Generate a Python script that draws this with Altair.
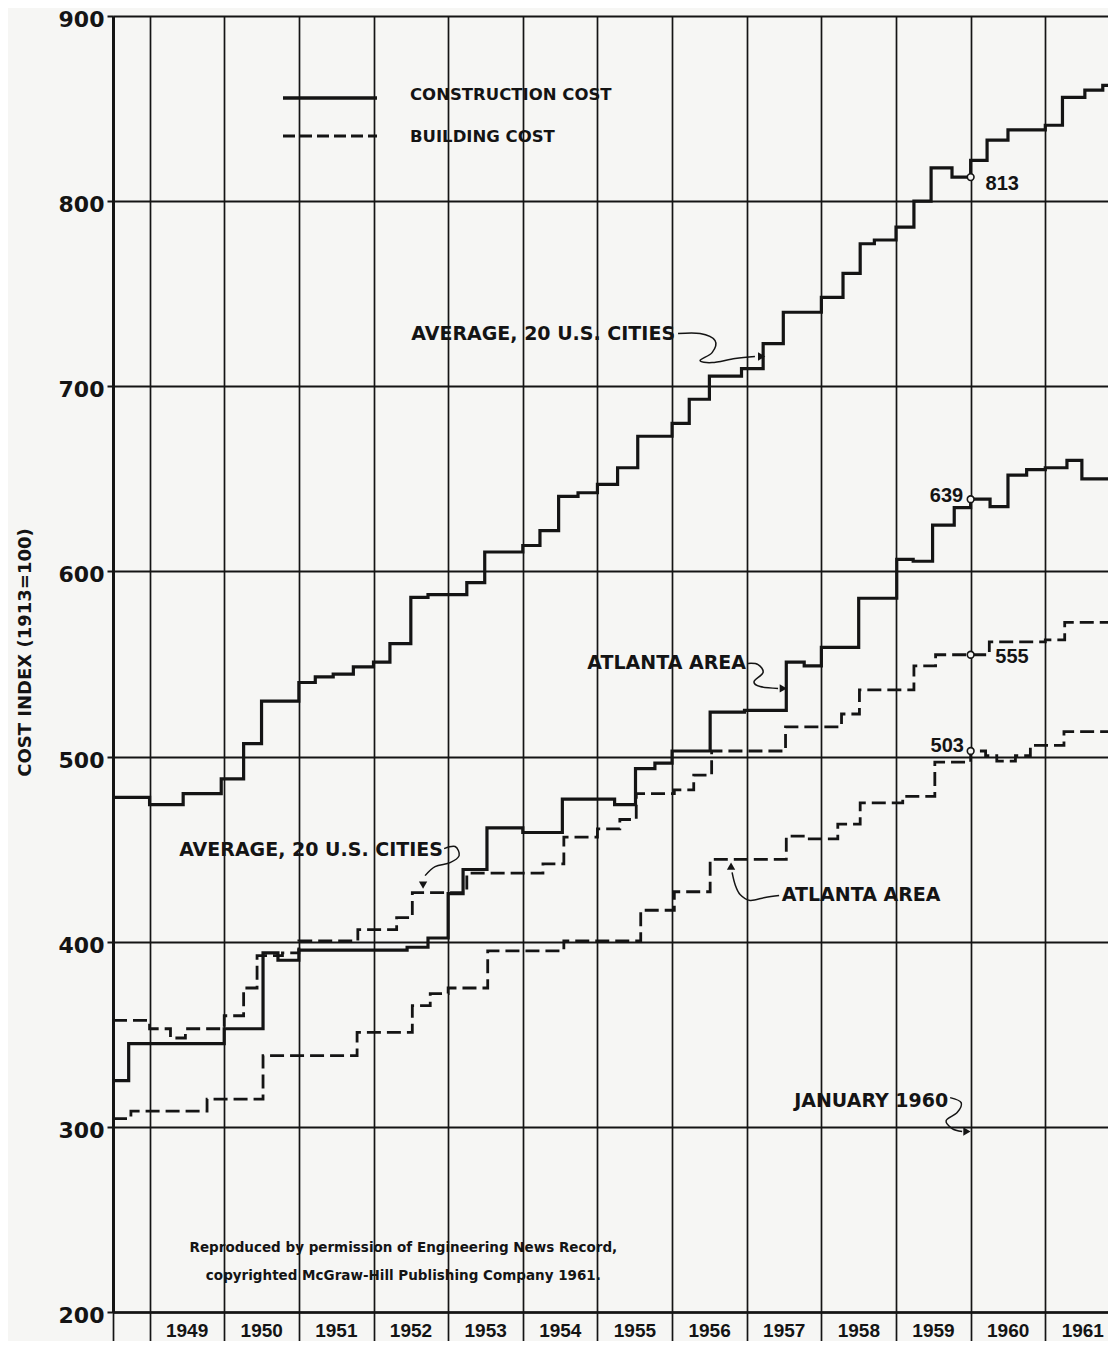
import altair as alt
import pandas as pd

# ---------------- data ----------------
# Construction cost, average of 20 U.S. cities (solid)
A_YEAR = [1948.51, 1949.0, 1949.45, 1949.96, 1950.26, 1950.5, 1951.0, 1951.22, 1951.46, 1951.73,
          1952.0, 1952.22, 1952.5, 1952.73, 1953.25, 1953.49, 1954.0, 1954.23, 1954.48, 1954.74,
          1955.0, 1955.27, 1955.54, 1956.0, 1956.23, 1956.5, 1956.93, 1957.22, 1957.49, 1958.0,
          1958.29, 1958.52, 1958.71, 1959.0, 1959.24, 1959.47, 1959.75, 1960.0, 1960.22, 1960.5,
          1961.0, 1961.23, 1961.53, 1961.77, 1961.84]
A_VAL = [478, 474, 480, 488, 507, 530, 540, 543, 544.5, 548.5,
         551, 561, 586, 587.5, 594, 610.5, 614, 622, 640.5, 642.5,
         647, 656, 673, 680, 693, 705.5, 709.5, 723, 740, 748,
         761, 777, 779, 786, 800, 818, 813, 822, 833, 838.5,
         841, 856, 860, 862.5, 862.5]

# Construction cost, Atlanta area (solid)
B_YEAR = [1948.51, 1948.72, 1950.0, 1950.52, 1950.72, 1951.0, 1952.45, 1952.73, 1953.0, 1953.2,
          1953.52, 1954.0, 1954.53, 1955.23, 1955.51, 1955.77, 1956.0, 1956.51, 1956.97, 1957.53,
          1957.77, 1958.0, 1958.5, 1959.01, 1959.23, 1959.49, 1959.78, 1960.0, 1960.26, 1960.5,
          1960.75, 1961.0, 1961.29, 1961.49, 1961.84]
B_VAL = [325, 345, 353, 394, 390, 395.5, 397, 402, 426, 439,
         461.5, 459, 477, 474, 493.5, 496.5, 503, 524, 525, 551,
         549, 559, 585.5, 606.5, 605.5, 625, 634.5, 639, 635, 652,
         655, 656, 660, 650, 650]

# Building cost, average of 20 U.S. cities (dashed)
C_YEAR = [1948.51, 1949.0, 1949.28, 1949.48, 1950.0, 1950.26, 1950.44, 1950.78, 1951.0, 1951.79,
          1952.31, 1952.52, 1953.25, 1954.27, 1954.55, 1955.0, 1955.3, 1955.52, 1956.03, 1956.29,
          1956.53, 1957.52, 1958.27, 1958.51, 1959.24, 1959.53, 1960.25, 1961.0, 1961.26, 1961.84]
C_VAL = [357.5, 353, 348, 353, 360, 375, 392.5, 394, 400.5, 406.5,
         413, 426.5, 437, 442, 456.5, 461, 466, 480, 482, 490,
         503, 516, 523, 536, 549, 555, 562, 563, 572.5, 572.5]

# Building cost, Atlanta area (dashed)
D_YEAR = [1948.51, 1948.75, 1949.77, 1950.52, 1951.78, 1952.52, 1952.76, 1953.0, 1953.53, 1954.55,
          1955.58, 1956.03, 1956.51, 1957.53, 1957.78, 1958.22, 1958.52, 1959.09, 1959.52, 1960.0,
          1960.2, 1960.35, 1960.6, 1960.8, 1961.25, 1961.84]
D_VAL = [304.5, 308.5, 315, 338.5, 351, 365.5, 372, 375, 395, 400.5,
         417, 427, 444.5, 457, 455.5, 463.5, 475, 478.5, 497, 503,
         500.5, 497.5, 500.5, 506, 513.5, 513.5]

# January 1960 markers
MARK_YEAR = [1960.0, 1960.0, 1960.0, 1960.0]
MARK_VAL = [813, 639, 555, 503]
MARK_TEXT = ["813", "639", "555", "503"]
MARK_LABEL_YEAR = [1960.2, 1959.9, 1960.33, 1959.91]
MARK_LABEL_VAL = [809, 641, 554, 505.5]
MARK_LABEL_SIDE = ["left", "right", "left", "right"]

# Callout labels
NOTE_TEXT = ["AVERAGE, 20 U.S. CITIES", "ATLANTA  AREA", "AVERAGE, 20 U.S. CITIES",
             "ATLANTA  AREA", "JANUARY 1960"]
NOTE_YEAR = [1956.04, 1956.99, 1952.93, 1957.47, 1959.70]
NOTE_VAL = [728.5, 550.3, 449.3, 425.5, 314.2]
NOTE_SIDE = ["right", "right", "right", "left", "right"]

# Curly leader lines of the callouts
LEAD_ID = [1] * 8 + [2] * 6 + [3] * 6 + [4] * 6 + [5] * 6
LEAD_YEAR = [1956.08, 1956.375, 1956.576, 1956.536, 1956.375, 1956.536, 1956.844, 1957.11,
             1957.018, 1957.152, 1957.219, 1957.098, 1957.179, 1957.42,
             1952.946, 1953.093, 1953.147, 1953.026, 1952.825, 1952.691,
             1957.434, 1957.246, 1957.045, 1956.911, 1956.844, 1956.804,
             1959.725, 1959.873, 1959.819, 1959.672, 1959.752, 1959.886]
LEAD_VAL = [728.5, 728.5, 724.7, 718.2, 713.9, 712.8, 715.0, 716.1,
            550.3, 549.7, 545.4, 540.5, 537.8, 536.8,
            450.3, 451.4, 446.5, 442.7, 440.6, 435.7,
            425.0, 423.9, 422.3, 425.5, 430.9, 437.4,
            315.8, 313.1, 307.7, 303.4, 299.1, 297.5]
HEAD_YEAR = [1957.20, 1957.49, 1952.664, 1956.79, 1959.95]
HEAD_VAL = [716.1, 536.8, 430.5, 440.8, 297.5]
HEAD_ANGLE = [0, 0, 90, 270, 0]

# Credit lines
CREDIT_TEXT = ["Reproduced by permission of Engineering News Record,",
               "copyrighted McGraw-Hill Publishing Company 1961."]
CREDIT_YEAR = [1952.40, 1952.40]
CREDIT_VAL = [234.3, 219.7]

# Legend entries
LEGEND_TEXT = ["CONSTRUCTION COST", "BUILDING COST"]

YEAR_TICKS = [1948.51] + list(range(1949, 1962))
VALUE_TICKS = list(range(200, 901, 100))

# ---------------- tables ----------------
def series(years, vals, name, kind):
    return pd.DataFrame({"year": years, "value": vals, "series": name, "kind": kind})

lines = pd.concat([
    series(A_YEAR, A_VAL, "avg_construction", "construction"),
    series(B_YEAR, B_VAL, "atl_construction", "construction"),
    series(C_YEAR, C_VAL, "avg_building", "building"),
    series(D_YEAR, D_VAL, "atl_building", "building"),
], ignore_index=True)

marks = pd.DataFrame({"year": MARK_YEAR, "value": MARK_VAL})
mark_labels = pd.DataFrame({"year": MARK_LABEL_YEAR, "value": MARK_LABEL_VAL,
                            "text": MARK_TEXT, "side": MARK_LABEL_SIDE})
notes = pd.DataFrame({"year": NOTE_YEAR, "value": NOTE_VAL, "text": NOTE_TEXT, "side": NOTE_SIDE})
leads = pd.DataFrame({"id": LEAD_ID, "year": LEAD_YEAR, "value": LEAD_VAL})
leads["seq"] = leads.groupby("id").cumcount()
heads = pd.DataFrame({"year": HEAD_YEAR, "value": HEAD_VAL, "angle": HEAD_ANGLE})
credits = pd.DataFrame({"year": CREDIT_YEAR, "value": CREDIT_VAL, "text": CREDIT_TEXT})

# ---------------- styling ----------------
INK = "#141414"
PAPER = "#f6f6f4"
W, H = 995, 1296

xs = alt.Scale(domain=[1948.51, 1961.84], nice=False, zero=False)
ys = alt.Scale(domain=[200, 900], nice=False, zero=False)

x_axis = alt.Axis(
    values=YEAR_TICKS, title=None,
    labelExpr="datum.value < 1949 ? '' : format(datum.value, 'd')",
    grid=True, gridColor=INK, gridWidth=1.7, gridOpacity=1,
    ticks=True, tickSize=29, tickColor=INK, tickWidth=1.7,
    domain=True, domainColor=INK, domainWidth=2.4,
    labelFont="Liberation Sans", labelFontWeight="bold", labelFontSize=19, labelColor=INK,
    labelOffset=37, labelPadding=-20, labelAlign="center", labelBaseline="top",
    labelFlush=False, labelOverlap=False,
)
y_axis = alt.Axis(
    values=VALUE_TICKS, format="d",
    title="COST INDEX (1913=100)", titleFont="DejaVu Sans", titleFontWeight="bold",
    titleFontSize=18, titleColor=INK, titleAngle=270, titleX=-88, titleY=636,
    titleAlign="center", titleBaseline="middle",
    grid=True, gridColor=INK, gridWidth=2, gridOpacity=1,
    ticks=True, tickSize=6, tickWidth=2, tickColor=INK,
    domain=True, domainWidth=3, domainColor=INK,
    labelFont="DejaVu Sans", labelFontWeight="bold", labelFontSize=22, labelColor=INK,
    labelPadding=3, labelOffset=3.5,
)

# the same axis definition on every layer so that Vega-Lite merges them
X = alt.X("year:Q", scale=xs, axis=x_axis)
Y = alt.Y("value:Q", scale=ys, axis=y_axis)

base_lines = alt.Chart(lines)

solid = base_lines.transform_filter("datum.kind == 'construction'").mark_line(
    interpolate="step-after", color=INK, strokeWidth=3.2
).encode(x=X, y=Y, detail="series:N")

dashed = base_lines.transform_filter("datum.kind == 'building'").mark_line(
    interpolate="step-after", color=INK, strokeWidth=2.8, strokeDash=[14, 6]
).encode(x=X, y=Y, detail="series:N")

circles = alt.Chart(marks).mark_point(
    shape="circle", filled=True, fill=PAPER, stroke=INK, strokeWidth=1.6, size=45, opacity=1
).encode(x=X, y=Y)

def text_layer(df, side, font, size, weight="bold"):
    return alt.Chart(df).transform_filter(f"datum.side == '{side}'").mark_text(
        align=side, baseline="middle", font=font, fontSize=size, fontWeight=weight, color=INK
    ).encode(x=X, y=Y, text="text:N")

mark_left = text_layer(mark_labels, "left", "Liberation Sans", 20)
mark_right = text_layer(mark_labels, "right", "Liberation Sans", 20)
note_left = text_layer(notes, "left", "DejaVu Sans", 19)
note_right = text_layer(notes, "right", "DejaVu Sans", 19)

lead_lines = alt.Chart(leads).mark_line(
    interpolate="cardinal", color=INK, strokeWidth=1.5
).encode(x=X, y=Y, detail="id:N", order="seq:Q")

arrow_heads = alt.Chart(heads).mark_point(
    shape="triangle-right", filled=True, color=INK, size=70, opacity=1
).encode(x=X, y=Y, angle=alt.Angle("angle:Q", scale=None))

credit = alt.Chart(credits).mark_text(
    align="center", baseline="middle", font="DejaVu Sans", fontSize=13.5,
    fontWeight="bold", color=INK
).encode(x=X, y=Y, text="text:N")

# Legend (drawn in the upper-left area of the plot)
leg_solid = alt.Chart(pd.DataFrame({"t": [LEGEND_TEXT[0]]})).mark_rule(
    color=INK, strokeWidth=3.4
).encode(x=alt.value(170), x2=alt.value(264), y=alt.value(82))
leg_dash = alt.Chart(pd.DataFrame({"t": [LEGEND_TEXT[1]]})).mark_rule(
    color=INK, strokeWidth=3, strokeDash=[12, 5]
).encode(x=alt.value(170), x2=alt.value(264), y=alt.value(120))
leg_text1 = alt.Chart(pd.DataFrame({"t": [LEGEND_TEXT[0]]})).mark_text(
    align="left", baseline="middle", font="DejaVu Sans", fontSize=16.5, fontWeight="bold", color=INK
).encode(x=alt.value(297), y=alt.value(79), text="t:N")
leg_text2 = alt.Chart(pd.DataFrame({"t": [LEGEND_TEXT[1]]})).mark_text(
    align="left", baseline="middle", font="DejaVu Sans", fontSize=16.5, fontWeight="bold", color=INK
).encode(x=alt.value(297), y=alt.value(121), text="t:N")

chart = alt.layer(
    solid, dashed, lead_lines, arrow_heads, circles,
    mark_left, mark_right, note_left, note_right, credit,
    leg_solid, leg_dash, leg_text1, leg_text2,
).properties(
    width=W, height=H,
    autosize=alt.AutoSizeParams(type="none"),
    padding={"left": 105, "top": 8, "right": 0, "bottom": 29},
    background=PAPER,
).configure_view(stroke=None)

chart.save("out.html", embed_options={"renderer": "svg", "actions": False})
